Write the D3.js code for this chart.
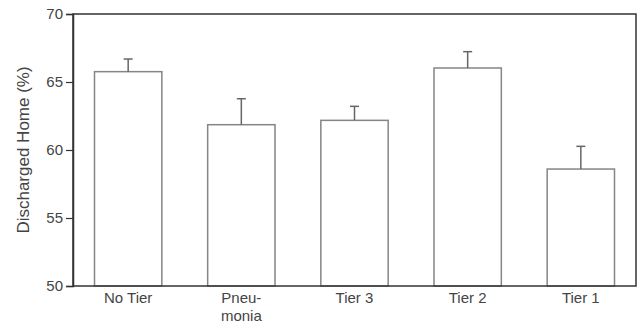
<!DOCTYPE html>
<html><head><meta charset="utf-8">
<script src="https://cdn.jsdelivr.net/npm/d3@7"></script>
<style>body{margin:0;background:#fff}svg{display:block}text{font-family:"Liberation Sans",Arial,sans-serif}</style>
</head><body>
<svg id="c" width="640" height="328"></svg>
<script>
const categories = [["No Tier"], ["Pneu-","monia"], ["Tier 3"], ["Tier 2"], ["Tier 1"]];
const values = [65.76, 61.86, 62.18, 66.03, 58.6];
const errTop = [66.69, 63.77, 63.21, 67.23, 60.27];
const yTicks = [50, 55, 60, 65, 70];

const svg = d3.select("#c");
const m = {l:73, r:4, t:14, b:42};
const W = 640, H = 328;
const x = d3.scaleBand().domain(d3.range(categories.length)).range([m.l, W-m.r]).paddingInner(0.405).paddingOuter(0.19);
const y = d3.scaleLinear().domain([50,70]).range([H-m.b, m.t]);

// bars
const g = svg.append("g");
g.selectAll("rect").data(values).join("rect")
  .attr("x", (d,i)=>x(i)).attr("width", x.bandwidth())
  .attr("y", d=>y(d)).attr("height", d=>y(50)-y(d))
  .attr("fill","#fff").attr("stroke","#858585").attr("stroke-width",1.5);
// error bars
g.selectAll("line.e").data(values).join("line").attr("class","e")
  .attr("x1",(d,i)=>x(i)+x.bandwidth()/2).attr("x2",(d,i)=>x(i)+x.bandwidth()/2)
  .attr("y1",d=>y(d)).attr("y2",(d,i)=>y(errTop[i]))
  .attr("stroke","#666").attr("stroke-width",1.5);
g.selectAll("line.c").data(values).join("line").attr("class","c")
  .attr("x1",(d,i)=>x(i)+x.bandwidth()/2-4.5).attr("x2",(d,i)=>x(i)+x.bandwidth()/2+4.5)
  .attr("y1",(d,i)=>y(errTop[i])).attr("y2",(d,i)=>y(errTop[i]))
  .attr("stroke","#666").attr("stroke-width",1.5);

// frame
svg.append("rect").attr("x",m.l).attr("y",m.t).attr("width",W-m.r-m.l).attr("height",H-m.b-m.t)
  .attr("fill","none").attr("stroke","#333").attr("stroke-width",1.5);

// y axis
const ya = svg.append("g").attr("transform",`translate(${m.l},0)`)
  .call(d3.axisLeft(y).tickValues(yTicks).tickSize(7).tickPadding(3));
ya.select(".domain").attr("stroke","#333").attr("stroke-width",1.5);
ya.selectAll(".tick line").attr("stroke","#333").attr("stroke-width",1.2);
ya.selectAll(".tick text").attr("font-size",15).attr("fill","#444").style("font-family","'Liberation Sans',Arial,sans-serif");

// x labels
const xl = svg.append("g");
categories.forEach((lines,i)=>{
  const t = xl.append("text").attr("x", x(i)+x.bandwidth()/2).attr("y", y(50)+17)
    .attr("text-anchor","middle").attr("font-size",15).attr("fill","#444");
  lines.forEach((s,j)=>t.append("tspan").attr("x", x(i)+x.bandwidth()/2).attr("dy", j?18:0).text(s));
});

// y label
svg.append("text").attr("transform",`translate(28.5,${(m.t+H-m.b)/2}) rotate(-90)`)
  .attr("text-anchor","middle").attr("font-size",17).attr("fill","#444").text("Discharged Home (%)");
</script>
</body></html>
